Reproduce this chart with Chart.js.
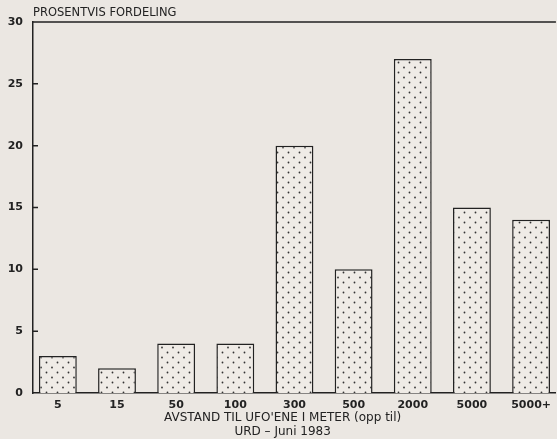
<!DOCTYPE html>
<html>
<head>
<meta charset="utf-8">
<script src="https://cdn.jsdelivr.net/npm/chart.js@4"></script>
<style>
  html, body { margin: 0; padding: 0; background: #ebe7e2; }
  #wrap { width: 557px; height: 439px; }
</style>
</head>
<body>
<div id="wrap"><canvas id="ufo_chart"></canvas></div>
<script>
const categories = ["5", "15", "50", "100", "300", "500", "2000", "5000", "5000+"];
const percentages = [3, 2, 4, 4, 20, 10, 27, 15, 14];
const yTicks = [0, 5, 10, 15, 20, 25, 30];
const chartTitle = "PROSENTVIS FORDELING";
const xTitle = ["AVSTAND TIL UFO'ENE I METER (opp til)", "URD \u2013 Juni 1983"];

const ink = "#222";
const font = "'DejaVu Sans', sans-serif";

// dotted fill like the printed raster
function dotPattern() {
  const c = document.createElement("canvas");
  c.width = 11;
  c.height = 10;
  const g = c.getContext("2d");
  g.fillStyle = "#efebe6";
  g.fillRect(0, 0, 11, 10);
  g.fillStyle = "#333";
  [[2.5, 2.5], [8, 7.5]].forEach(([x, y]) => {
    g.beginPath();
    g.arc(x, y, 0.9, 0, Math.PI * 2);
    g.fill();
  });
  return g.createPattern(c, "repeat");
}

// top rule, inner y tick marks, and the texts of the old plot
const frame = {
  id: "frame",
  afterDraw(chart) {
    const { ctx, chartArea } = chart;
    const y = chart.scales.y;
    const x = chart.scales.x;
    ctx.save();
    ctx.strokeStyle = ink;
    ctx.lineWidth = 1.5;
    ctx.beginPath();
    ctx.moveTo(chartArea.left, chartArea.top);
    ctx.lineTo(chartArea.right, chartArea.top);
    yTicks.slice(1, -1).forEach(v => {
      const py = y.getPixelForValue(v);
      ctx.moveTo(chartArea.left, py);
      ctx.lineTo(chartArea.left + 5, py);
    });
    ctx.stroke();
    ctx.fillStyle = ink;
    ctx.textBaseline = "middle";
    ctx.font = "11.5px " + font;
    ctx.fillText(chartTitle, chartArea.left, 13);
    ctx.font = "12px " + font;
    ctx.textAlign = "center";
    const cx = x.getPixelForValue(3.8);
    xTitle.forEach((line, i) => ctx.fillText(line, cx, 418 + i * 14));
    ctx.restore();
  }
};

const ctx = document.getElementById("ufo_chart").getContext("2d");

new Chart(ctx, {
  type: "bar",
  data: {
    datasets: [
      {
        data: percentages.map((v, i) => ({ x: i, y: v })),
        backgroundColor: dotPattern(),
        borderColor: ink,
        borderWidth: 1.5,
        barPercentage: 0.64,
        categoryPercentage: 1,
      },
    ],
  },
  options: {
    responsive: true,
    maintainAspectRatio: false,
    animation: false,
    layout: { padding: { top: 22, right: 0, left: 0, bottom: 0 } },
    plugins: {
      legend: { display: false },
      tooltip: { enabled: false },
    },
    scales: {
      x: {
        type: "linear",
        offset: false,
        min: -0.42,
        max: 8.42,
        grid: { display: false, drawTicks: false },
        border: { color: ink, width: 1.5 },
        afterBuildTicks: scale => {
          scale.ticks = categories.map((c, i) => ({ value: i }));
        },
        afterFit: scale => { scale.height = 46; },
        ticks: {
          padding: 6,
          color: ink,
          font: { family: font, size: 11, weight: "bold" },
          maxRotation: 0,
          autoSkip: false,
          callback: v => categories[v],
        },
      },
      y: {
        min: 0,
        max: 30,
        grid: { display: false, drawTicks: false },
        border: { color: ink, width: 1.5 },
        afterBuildTicks: scale => {
          scale.ticks = yTicks.map(v => ({ value: v }));
        },
        afterFit: scale => { scale.width = 33; },
        ticks: {
          padding: 10,
          color: ink,
          font: { family: font, size: 11, weight: "bold" },
        },
      },
    },
  },
  plugins: [frame],
});
</script>
</body>
</html>
